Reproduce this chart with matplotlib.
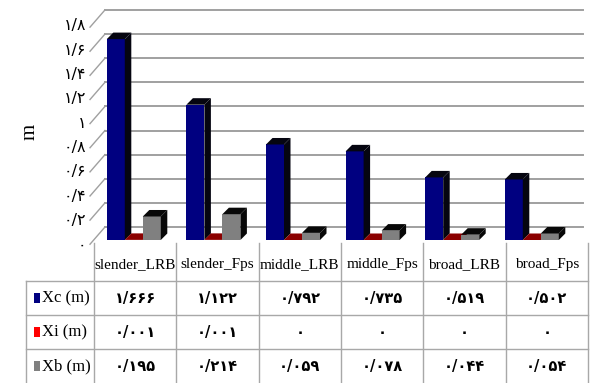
import matplotlib.pyplot as plt
from matplotlib.patches import Polygon, Rectangle

# داده‌ها
categories = ['slender_LRB', 'slender_Fps', 'middle_LRB', 'middle_Fps', 'broad_LRB', 'broad_Fps']
series_names = ['Xc (m)', 'Xi (m)', 'Xb (m)']
xc = [1.666, 1.122, 0.792, 0.735, 0.519, 0.502]
xi = [0.001, 0.001, 0, 0, 0, 0]
xb = [0.195, 0.214, 0.059, 0.078, 0.044, 0.054]
y_ticks = [0, 0.2, 0.4, 0.6, 0.8, 1.0, 1.2, 1.4, 1.6, 1.8]

front_colors = ['#000080', '#8b0000', '#808080']
key_colors = ['#000080', '#ff0000', '#808080']
cap_colors = ['#050510', '#8b0000', '#080808']

fa = str.maketrans('0123456789.', '۰۱۲۳۴۵۶۷۸۹/')


def to_fa(v, fmt):
    return '۰' if v == 0 else format(v, fmt).translate(fa)


W, H = 591, 383
fig = plt.figure(figsize=(W / 100, H / 100), dpi=100)
fig.patch.set_facecolor('white')

serif = ['Liberation Serif', 'DejaVu Serif']
digits = ['DejaVu Sans']

# محور نمودار میله‌ای (صفحه جلویی میله‌ها)
px_x, px_y = 79.6, 120.6
ax = fig.add_axes([0, (H - 240) / H, 1, 240 / H])
ax.set_xlim(-0.5 - 94 / px_x, -0.5 + 497 / px_x)
ax.set_ylim(0, 240 / px_y)
ax.axis('off')

back_dy = 13 / px_y
wall_x0, wall_x1 = -0.362, 5.643
for v in y_ticks:
    ax.plot([wall_x0, wall_x1], [v + back_dy, v + back_dy], color='#a0a0a0', lw=1.4, zorder=1)
    ax.plot([-0.55, wall_x0], [v - 0.035, v + back_dy], color='#a0a0a0', lw=1.0, zorder=1,
            clip_on=False)
    lab = '۰' if v == 0 else format(v, 'g').translate(fa)
    ax.text(-0.60, v * 1.009 - 0.041, lab, ha='right', va='center', fontsize=11.5,
            family=digits, clip_on=False)

w = 18 / px_x
ddx, ddy = 6.5 / px_x, 6.5 / px_y
offsets = [-w, 0, w]
for i in range(len(categories)):
    for s, vals in enumerate([xc, xi, xb]):
        x0 = i + offsets[s] - w / 2
        h = vals[i]
        ax.add_patch(Rectangle((x0, 0), w, h, facecolor=front_colors[s], edgecolor='none', zorder=3))
        top = [(x0, h), (x0 + w, h), (x0 + w + ddx, h + ddy), (x0 + ddx, h + ddy)]
        side = [(x0 + w, 0), (x0 + w, h), (x0 + w + ddx, h + ddy), (x0 + w + ddx, ddy)]
        ax.add_patch(Polygon(side, closed=True, facecolor=cap_colors[s], edgecolor='none', zorder=3))
        ax.add_patch(Polygon(top, closed=True, facecolor=cap_colors[s], edgecolor='none', zorder=3))

fig.text(30 / W, 1 - 132 / H, 'm', rotation=90, ha='center', va='center', fontsize=15, family=serif)

# جدول داده‌ها
col_w = 82.3
tax = fig.add_axes([26 / W, 0, (588 - 26) / W, 140 / H])
head_w = 68 / col_w
row_h0 = 38 / 34
tax.set_xlim(-head_w, 6)
tax.set_ylim(row_h0 + 3, 0)
tax.axis('off')

lc = '#a8a8a8'
for r in range(3):
    tax.plot([-head_w, 6], [row_h0 + r, row_h0 + r], color=lc, lw=1.0, clip_on=False)
for j in range(7):
    tax.plot([j, j], [0, row_h0 + 3], color=lc, lw=1.0, clip_on=False)
tax.plot([-head_w, -head_w], [row_h0, row_h0 + 3], color=lc, lw=1.0, clip_on=False)

for j, c in enumerate(categories):
    tax.text(j + 0.5, 0.64, c, ha='center', va='center', fontsize=11, family=serif)

for r, (name, vals) in enumerate(zip(series_names, [xc, xi, xb])):
    yc = row_h0 + r + 0.5
    tax.add_patch(Rectangle((-head_w + 8 / col_w, yc - 0.15), 6 / col_w, 0.3,
                            facecolor=key_colors[r], edgecolor='none'))
    tax.text(-head_w + 16 / col_w, yc, name, ha='left', va='center', fontsize=12, family=serif)
    for j, v in enumerate(vals):
        tax.text(j + 0.5, yc, to_fa(v, '.3f'), ha='center', va='center', fontsize=10.5,
                 fontweight='bold', family=digits)

fig.savefig('out.png', dpi=100)
